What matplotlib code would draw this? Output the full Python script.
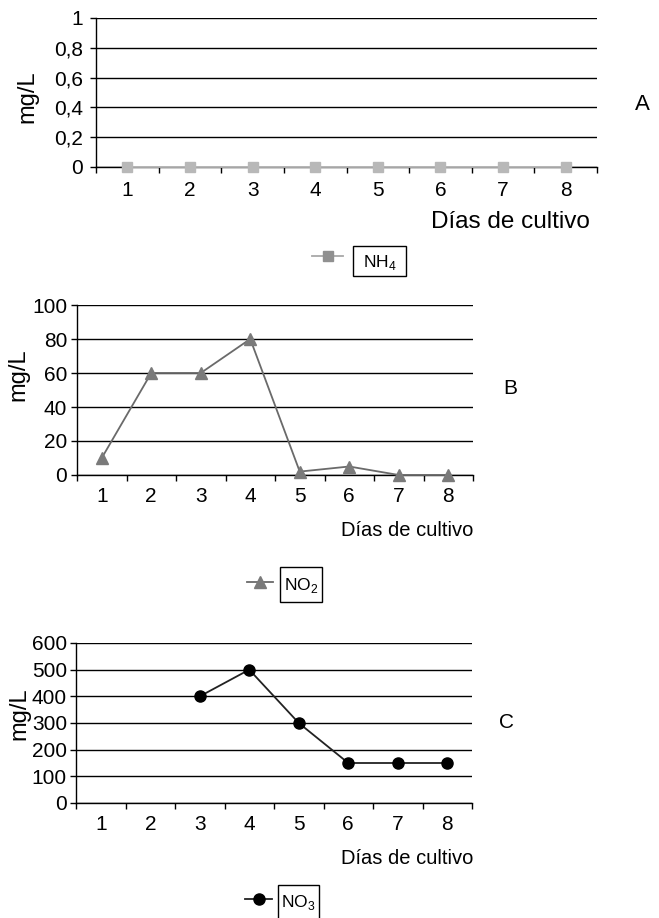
import numpy as np
import matplotlib
matplotlib.use('Agg')
import matplotlib.pyplot as plt
from matplotlib.lines import Line2D
from matplotlib.patches import Rectangle

# Datos
dias = ['1', '2', '3', '4', '5', '6', '7', '8']
nh4 = [0, 0, 0, 0, 0, 0, 0, 0]
no2 = [10, 60, 60, 80, 2, 5, 0, 0]
no3 = [np.nan, np.nan, 400, 500, 300, 150, 150, 150]

ticks_a = [0, 0.2, 0.4, 0.6, 0.8, 1]
labels_a = ['0', '0,2', '0,4', '0,6', '0,8', '1']
ticks_b = [0, 20, 40, 60, 80, 100]
ticks_c = [0, 100, 200, 300, 400, 500, 600]

W, H = 659, 918
plt.rcParams['mathtext.fontset'] = 'custom'
plt.rcParams['mathtext.rm'] = 'Liberation Sans'

FAM = ['Liberation Sans', 'DejaVu Sans']

fig = plt.figure(figsize=(W / 100, H / 100), dpi=100)


def box(x0, y0, x1, y1):
    # caja en pixeles (origen arriba a la izquierda)
    return [x0 / W, 1 - y1 / H, (x1 - x0) / W, (y1 - y0) / H]


def fx(x):
    return x / W


def fy(y):
    return 1 - y / H


def panel(rect, values, yticks, ylabels, ylim, fs, ypad, xpad, color, lcolor, marker, ms):
    ax = fig.add_axes(rect)
    x = np.arange(len(dias))
    ax.plot(x, values, color=lcolor, lw=1.3, marker=marker, ms=ms,
            markerfacecolor=color, markeredgecolor=color, zorder=3, clip_on=False)
    ax.set_xlim(-0.5, len(dias) - 0.5)
    ax.set_ylim(*ylim)
    ax.set_yticks(yticks)
    ax.set_yticklabels(ylabels, family=FAM, fontsize=fs)
    ax.set_xticks(x)
    ax.set_xticklabels(dias, family=FAM, fontsize=fs)
    ax.set_xticks(np.arange(len(dias) + 1) - 0.5, minor=True)
    ax.tick_params(axis='x', which='major', length=0, pad=xpad)
    ax.tick_params(axis='x', which='minor', length=4.5, width=1, direction='out')
    ax.tick_params(axis='y', length=4.5, width=1, direction='out', pad=ypad)
    for s in ['top', 'right']:
        ax.spines[s].set_visible(False)
    for s in ['left', 'bottom']:
        ax.spines[s].set_linewidth(1)
        ax.spines[s].set_color('black')
    ax.yaxis.grid(True, color='black', lw=1)
    ax.set_axisbelow(True)
    return ax


def legend_key(x0, x1, y, lcolor, color, marker, ms, bx0, bx1, by0, by1, label, fs):
    xm = (x0 + x1) / 2
    fig.add_artist(Line2D([fx(x0), fx(xm), fx(x1)], [fy(y)] * 3, color=lcolor, lw=1.3,
                          marker=marker, ms=ms, markevery=[1], markerfacecolor=color,
                          markeredgecolor=color, transform=fig.transFigure))
    fig.add_artist(Rectangle((fx(bx0), fy(by1)), fx(bx1) - fx(bx0), fy(by0) - fy(by1),
                             transform=fig.transFigure, fill=False, ec='black', lw=1))
    fig.text(fx((bx0 + bx1) / 2), fy((by0 + by1) / 2 + 1), label, ha='center', va='center',
             family=FAM, fontsize=fs)


# Panel A
panel(box(96, 18, 597, 167), nh4, ticks_a, labels_a, (0, 1), 15, 5, 10,
      '#b8b8b8', '#b8b8b8', 's', 7)
fig.text(fx(27), fy(97), 'mg/L', rotation=90, ha='center', va='center', family=FAM, fontsize=17)
fig.text(fx(590), fy(222), 'Días de cultivo', ha='right', va='center', family=FAM, fontsize=17.5)
fig.text(fx(642), fy(105), 'A', ha='center', va='center', family=FAM, fontsize=16)
legend_key(312, 343, 256, '#a8a8a8', '#909090', 's', 7, 353, 406, 246, 276,
           r'NH$_\mathregular{4}$', 12.5)

# Panel B
panel(box(77, 305, 473, 475), no2, ticks_b, [str(t) for t in ticks_b], (0, 100), 15, 2.5, 9,
      '#7a7a7a', '#6a6a6a', '^', 9)
fig.text(fx(18), fy(375), 'mg/L', rotation=90, ha='center', va='center', family=FAM, fontsize=17)
fig.text(fx(473), fy(531), 'Días de cultivo', ha='right', va='center', family=FAM, fontsize=14.5)
fig.text(fx(510), fy(389), 'B', ha='center', va='center', family=FAM, fontsize=15)
legend_key(247, 273, 582, '#6a6a6a', '#7a7a7a', '^', 9, 280, 322, 567, 602,
           r'NO$_\mathregular{2}$', 12.5)

# Panel C
panel(box(76, 643, 472, 803), no3, ticks_c, [str(t) for t in ticks_c], (0, 600), 15, 2, 9,
      'black', '#222222', 'o', 8)
fig.text(fx(19), fy(714), 'mg/L', rotation=90, ha='center', va='center', family=FAM, fontsize=17)
fig.text(fx(473), fy(858), 'Días de cultivo', ha='right', va='center', family=FAM, fontsize=14.5)
fig.text(fx(507), fy(723), 'C', ha='center', va='center', family=FAM, fontsize=15)
legend_key(245, 272, 899, '#222222', 'black', 'o', 8, 278, 319, 885, 919,
           r'NO$_\mathregular{3}$', 12.5)

fig.savefig('out.png', dpi=100)
